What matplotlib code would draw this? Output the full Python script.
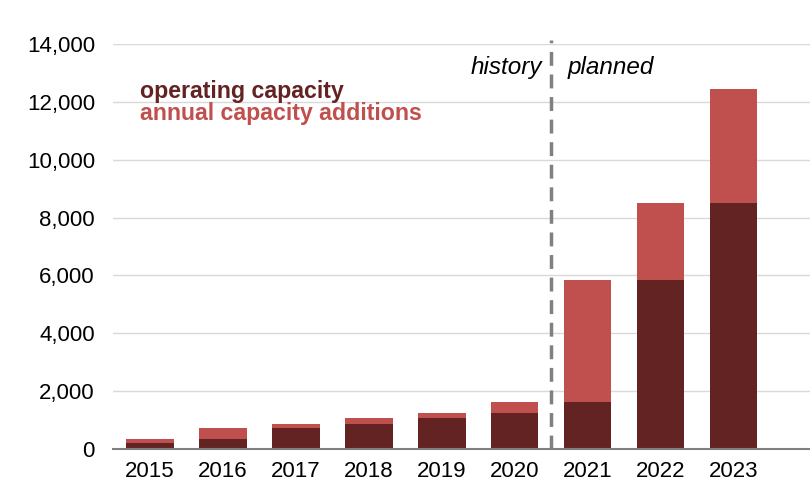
import matplotlib
matplotlib.use("Agg")
import matplotlib.pyplot as plt

years = ["2015", "2016", "2017", "2018", "2019", "2020", "2021", "2022", "2023"]
operating = [200, 330, 710, 850, 1060, 1230, 1635, 5840, 8490]
additions = [130, 380, 140, 210, 170, 405, 4205, 2650, 3940]
yticks = [0, 2000, 4000, 6000, 8000, 10000, 12000, 14000]

dark = "#622322"
light = "#c0504d"

plt.rcParams['font.family'] = ['Liberation Sans', 'DejaVu Sans']

fig = plt.figure(figsize=(8.1, 4.97), dpi=100)
ax = fig.add_axes([0.1395, 0.0966, 0.8605, 0.8149])

x = list(range(len(years)))
ax.bar(x, operating, width=0.65, color=dark, zorder=3)
ax.bar(x, additions, bottom=operating, width=0.65, color=light, zorder=3)

ax.set_xlim(-0.51, 9.05)
ax.set_ylim(0, 14000)
ax.set_yticks(yticks)
ax.set_yticklabels([f"{v:,}" for v in yticks])
ax.set_xticks(x)
ax.set_xticklabels(years)
ax.tick_params(axis='both', length=0, labelsize=16, colors='#000000')
ax.tick_params(axis='y', pad=13)
ax.tick_params(axis='x', pad=9)
ax.grid(axis='y', color='#d9d9d9', linewidth=1, zorder=0)
for s in ['top', 'right', 'left']:
    ax.spines[s].set_visible(False)
ax.spines['bottom'].set_color('#808080')
ax.spines['bottom'].set_linewidth(1.5)
ax.spines['bottom'].set_zorder(4)

ax.plot([5.5, 5.5], [0, 14150], color='#808080', linewidth=2.5,
        linestyle=(0, (4, 2.5)), clip_on=False, zorder=5)
ax.text(5.37, 13170, "history", style='italic', fontsize=17.5, ha='right', va='center')
ax.text(5.73, 13170, "planned", style='italic', fontsize=17.5, ha='left', va='center')

ax.text(-0.14, 12350, "operating capacity", color=dark, fontsize=16.7,
        fontweight='bold', ha='left', va='center')
ax.text(-0.14, 11600, "annual capacity additions", color=light, fontsize=16.7,
        fontweight='bold', ha='left', va='center')

fig.savefig("out.png", dpi=100)
